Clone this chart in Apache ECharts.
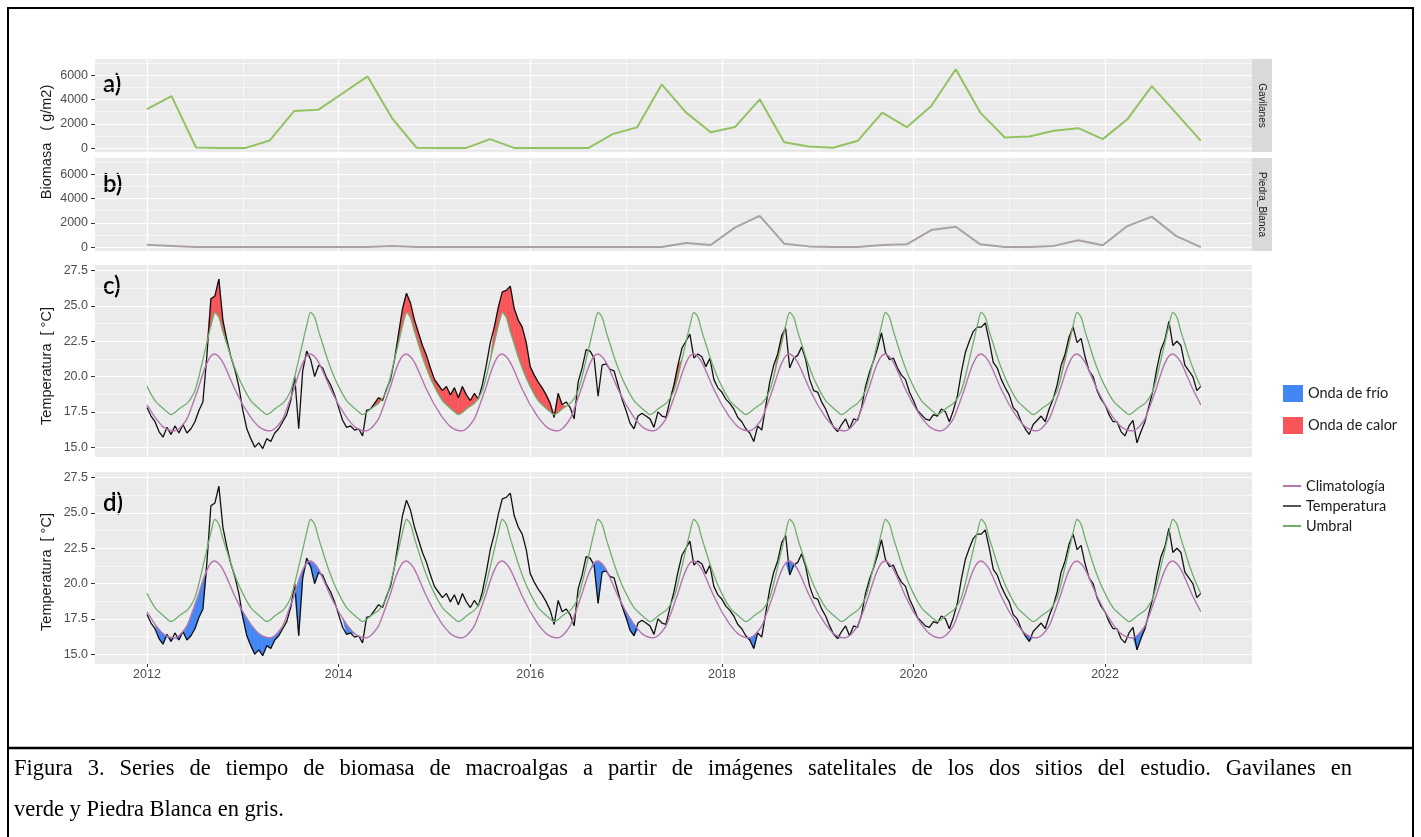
<!DOCTYPE html>
<html>
<head>
<meta charset="utf-8">
<title>Figura 3</title>
<script src="https://cdn.jsdelivr.net/npm/echarts@6.0.0/dist/echarts.min.js"></script>
<style>
  html, body { margin: 0; padding: 0; background: #fff; }
  #chart { width: 1421px; height: 837px; }
</style>
</head>
<body>
<div id="chart"></div>
<script>
// biomass (g/m2), 44 satellite samples from Jan 2012 to Jan 2023
const bioStart = 2012;
const bioEnd = 2023;
const gavilanes = [3200, 4280, 50, 0, 0, 620, 3050, 3160, 4530, 5900, 2450, 30, 0, 0, 740, 0,
  0, 0, 0, 1150, 1720, 5240, 2920, 1310, 1740, 4010, 490, 130, 30, 600, 2920, 1720,
  3460, 6490, 2920, 870, 950, 1420, 1640, 740, 2370, 5100, 2860, 600];
const piedraBlanca = [200, 100, 0, 0, 0, 0, 0, 0, 0, 0, 100, 0, 0, 0, 0, 0,
  0, 0, 0, 0, 0, 0, 335, 170, 1620, 2570, 280, 60, 0, 0, 170, 226,
  1400, 1675, 226, 0, 0, 100, 560, 150, 1730, 2510, 900, 0];

// sea temperature (°C), two readings per month
const temp2012 = [17.8, 17.2, 16.8, 16.1, 15.7, 16.4, 15.9, 16.5, 16.0, 16.6, 16.0, 16.3, 16.8, 17.6, 18.2, 21.5, 25.5, 25.7, 26.9, 24.0, 22.6, 21.4, 20.5, 19.3];
const temp2013 = [17.6, 16.3, 15.6, 15.0, 15.3, 14.9, 15.6, 15.4, 16.0, 16.3, 16.8, 17.3, 18.3, 20.0, 16.3, 20.4, 21.8, 21.2, 20.0, 20.8, 20.6, 19.9, 19.4, 18.7];
const temp2014 = [17.8, 16.9, 16.4, 16.5, 16.2, 16.3, 15.8, 17.6, 17.7, 18.1, 18.5, 18.3, 19.1, 19.8, 21.2, 23.0, 24.8, 25.9, 25.2, 24.0, 23.1, 22.2, 21.5, 20.6];
const temp2015 = [19.8, 19.4, 19.0, 19.3, 18.7, 19.2, 18.5, 19.3, 18.7, 18.3, 18.8, 18.4, 19.4, 20.8, 22.4, 23.5, 24.9, 26.0, 26.1, 26.4, 24.8, 24.0, 23.5, 22.4];
const temp2016 = [20.7, 20.1, 19.6, 19.2, 18.7, 18.1, 17.1, 18.8, 18.0, 18.2, 17.8, 17.0, 19.6, 20.6, 21.9, 21.8, 21.3, 18.6, 20.8, 20.9, 20.5, 20.4, 19.4, 18.4];
const temp2017 = [17.6, 16.7, 16.3, 17.2, 17.4, 17.2, 17.0, 16.4, 17.5, 17.2, 17.1, 18.3, 19.4, 20.8, 22.0, 22.5, 23.0, 21.3, 21.6, 21.4, 20.7, 21.3, 19.8, 19.2];
const temp2018 = [18.9, 18.4, 18.1, 17.7, 17.1, 16.8, 16.3, 16.0, 15.4, 16.5, 16.2, 17.9, 19.6, 20.8, 21.6, 22.9, 23.4, 20.6, 21.3, 21.5, 22.1, 21.2, 19.8, 19.0];
const temp2019 = [18.9, 18.2, 17.7, 17.0, 16.4, 16.1, 16.6, 17.0, 16.3, 17.0, 16.9, 17.8, 19.3, 20.3, 21.1, 22.0, 23.1, 21.7, 21.2, 21.3, 20.6, 20.1, 19.8, 18.9];
const temp2020 = [18.3, 17.6, 17.3, 17.0, 16.9, 17.3, 17.2, 17.7, 17.5, 16.8, 17.6, 18.6, 20.3, 21.7, 22.5, 23.2, 23.5, 23.5, 23.8, 22.5, 21.0, 20.6, 19.8, 19.2];
const temp2021 = [18.7, 17.8, 17.5, 16.8, 16.3, 15.9, 16.6, 16.9, 17.2, 16.8, 17.7, 18.4, 19.4, 20.8, 21.6, 22.8, 23.5, 22.4, 22.7, 21.4, 20.4, 20.0, 19.0, 18.4];
const temp2022 = [18.0, 17.3, 16.8, 16.8, 16.1, 15.8, 16.5, 16.9, 15.3, 16.1, 16.8, 17.9, 19.0, 20.6, 21.9, 22.6, 23.9, 22.2, 22.5, 22.2, 20.8, 20.4, 20.0, 19.0];
const tempEnd = 19.3; // 1 Jan 2023

// seasonal cycle, two readings per month (same every year)
const climatologia = [18.0, 17.55, 17.1, 16.75, 16.45, 16.28, 16.18, 16.16, 16.3, 16.6, 17.0, 17.7,
  18.5, 19.3, 20.2, 20.95, 21.45, 21.6, 21.4, 21.0, 20.4, 19.75, 19.1, 18.55];
const umbral = [19.3, 18.75, 18.3, 18.0, 17.75, 17.5, 17.3, 17.45, 17.7, 17.9, 18.1, 18.45,
  19.0, 20.0, 21.2, 22.4, 23.6, 24.55, 24.2, 23.2, 22.3, 21.4, 20.6, 19.9];

// detected events (decimal years)
const ondasCalor = [[2012.6, 2012.83], [2014.3, 2014.47], [2014.58, 2015.46], [2015.6, 2016.34],
  [2017.46, 2017.55], [2018.57, 2018.66], [2021.57, 2021.66]];
const ondasFrio = [[2012.12, 2012.62], [2012.95, 2013.4], [2013.48, 2013.88], [2014.06, 2014.15],
  [2016.58, 2016.85], [2016.88, 2016.98], [2017.0, 2017.1], [2017.78, 2017.9], [2018.26, 2018.35],
  [2018.69, 2018.77], [2019.13, 2019.22], [2019.53, 2019.62], [2021.14, 2021.27], [2022.27, 2022.45]];

const yearTicks = [2012, 2014, 2016, 2018, 2020, 2022];
const yearMinor = [2013, 2015, 2017, 2019, 2021, 2023];
const bioTicks = [0, 2000, 4000, 6000];
const bioMinor = [1000, 3000, 5000, 7000];
const tempTicks = [15, 17.5, 20, 22.5, 25, 27.5];
const tempMinor = [16.25, 18.75, 21.25, 23.75, 26.25];

const caption1 = 'Figura 3. Series de tiempo de biomasa de macroalgas a partir de imágenes satelitales de los dos sitios del estudio. Gavilanes en';
const caption2 = 'verde y Piedra Blanca en gris.';

const X_MIN = 2011.457;
const X_MAX = 2023.534;
const GRID_LEFT = 95;
const GRID_W = 1157;

const COL = {
  gav: '#94c262',
  pb: '#aaa2a2',
  temp: '#111111',
  clim: '#b575ad',
  umb: '#6fae6f',
  calor: '#f8555a',
  frio: '#4287f5',
  panel: '#ebebeb',
  tick: '#4d4d4d'
};

// ---- build series data ----
const tempYears = [temp2012, temp2013, temp2014, temp2015, temp2016, temp2017,
  temp2018, temp2019, temp2020, temp2021, temp2022];
const tX = [], tT = [], tC = [], tU = [];
tempYears.forEach((arr, k) => {
  arr.forEach((v, i) => {
    tX.push(2012 + k + i / 24);
    tT.push(v);
    tC.push(climatologia[i]);
    tU.push(umbral[i]);
  });
});
tX.push(2023); tT.push(tempEnd); tC.push(climatologia[0]); tU.push(umbral[0]);

const inEvent = (x, list) => list.some(([a, b]) => x >= a && x <= b);
const pair = (vals) => tX.map((x, i) => [x, vals[i]]);

// band edges: [lower, upper] at every sample, zero width outside events
const heatLow = tU;
const heatHigh = tX.map((x, i) => inEvent(x, ondasCalor) ? Math.max(tT[i], tU[i]) : tU[i]);
const coldHigh = tC;
const coldLow = tX.map((x, i) => inEvent(x, ondasFrio) ? Math.min(tT[i], tC[i]) : tC[i]);

// one quad per sample step where the band is open
const bandSegments = (low, high) => {
  const out = [];
  for (let i = 0; i < tX.length - 1; i++) {
    if (high[i] - low[i] <= 0 && high[i + 1] - low[i + 1] <= 0) continue;
    out.push([tX[i], tX[i + 1], high[i], high[i + 1], low[i], low[i + 1]]);
  }
  return out;
};

const renderBand = (params, api) => {
  const color = api.visual('color');
  const p0 = api.coord([api.value(0), api.value(2)]);
  const p1 = api.coord([api.value(1), api.value(3)]);
  const p2 = api.coord([api.value(1), api.value(5)]);
  const p3 = api.coord([api.value(0), api.value(4)]);
  return {
    type: 'polygon',
    shape: { points: [p0, p1, p2, p3] },
    style: { fill: color, stroke: color, lineWidth: 0.5 }
  };
};

const bioStep = (bioEnd - bioStart) / (gavilanes.length - 1);
const bioX = gavilanes.map((_, i) => bioStart + i * bioStep);

// ---- axes ----
const xAxes = (grid, labels) => [
  {
    type: 'value', gridIndex: grid, min: X_MIN, max: X_MAX,
    axisLine: { show: false },
    axisTick: { show: labels, customValues: yearTicks, length: 3, lineStyle: { color: '#333', width: 1 } },
    axisLabel: {
      show: labels, customValues: yearTicks, margin: 4,
      formatter: (v) => String(v), color: COL.tick, fontSize: 12.5, fontFamily: 'Liberation Sans'
    },
    splitLine: { show: true, lineStyle: { color: '#ffffff', width: 1.2 } }
  },
  {
    type: 'value', gridIndex: grid, min: X_MIN, max: X_MAX,
    axisLine: { show: false },
    axisTick: { show: false, customValues: yearMinor },
    axisLabel: { show: false, customValues: yearMinor },
    splitLine: { show: true, lineStyle: { color: '#ffffff', width: 0.6 } }
  }
];

const yAxes = (grid, min, max, major, minor, fmt) => [
  {
    type: 'value', gridIndex: grid, min, max,
    axisLine: { show: false },
    axisTick: { show: true, customValues: major, length: 4, lineStyle: { color: '#333', width: 1 } },
    axisLabel: {
      customValues: major, margin: 7, formatter: fmt,
      color: COL.tick, fontSize: 12.5, fontFamily: 'Liberation Sans'
    },
    splitLine: { show: true, lineStyle: { color: '#ffffff', width: 1.2 } }
  },
  {
    type: 'value', gridIndex: grid, min, max,
    axisLine: { show: false },
    axisTick: { show: false, customValues: minor },
    axisLabel: { show: false, customValues: minor },
    splitLine: { show: true, lineStyle: { color: '#ffffff', width: 0.6 } }
  }
];

const fmtInt = (v) => String(v);
const fmtDec = (v) => v.toFixed(1);

const gridBox = (top, height) => ({
  left: GRID_LEFT, top, width: GRID_W, height,
  show: true, backgroundColor: COL.panel, borderWidth: 0
});

const line = (name, grid, data, color, width, extra) => Object.assign({
  name, type: 'line', xAxisIndex: grid * 2, yAxisIndex: grid * 2, data,
  symbol: 'none', silent: true, color,
  lineStyle: { color, width }
}, extra || {});

const band = (name, grid, data, color) => ({
  name, type: 'custom', xAxisIndex: grid * 2, yAxisIndex: grid * 2,
  data, renderItem: renderBand, silent: true, z: 2, clip: true,
  encode: { x: [0, 1], y: [2, 3, 4, 5] },
  itemStyle: { color }
});

const tempSet = (grid) => [
  line('Temperatura', grid, pair(tT), COL.temp, 1.3, { z: 3 }),
  line('Climatología', grid, pair(tC), COL.clim, 1.4, { z: 4, smooth: 0.3 }),
  line('Umbral', grid, pair(tU), COL.umb, 1.3, { z: 4, smooth: 0.3 })
];

const series = [
  line('Gavilanes', 0, bioX.map((x, i) => [x, gavilanes[i]]), COL.gav, 2),
  line('Piedra_Blanca', 1, bioX.map((x, i) => [x, piedraBlanca[i]]), COL.pb, 2),
  band('Onda de calor', 2, bandSegments(heatLow, heatHigh), COL.calor),
  ...tempSet(2),
  band('Onda de frío', 3, bandSegments(coldLow, coldHigh), COL.frio),
  ...tempSet(3)
];

// ---- decoration ----
const txt = (text, x, y, opts) => ({
  type: 'text', x, y, rotation: (opts && opts.rotation) || 0, silent: true,
  style: Object.assign({
    text, fill: '#1a1a1a', fontSize: 14, fontFamily: 'Liberation Sans',
    textAlign: 'left', textVerticalAlign: 'middle'
  }, (opts && opts.style) || {})
});

const panelLabel = (text, y) => txt(text, 103, y, {
  style: { fontSize: 24, fontFamily: 'Lato', fontWeight: 600, fill: '#000' }
});

// caption line 1 is justified across the box, like the document it came from
const CAP_FONT = 22.5;
const CAP_FAMILY = 'Liberation Serif';
const justifyLine = (text, x0, x1, y) => {
  const ctx = document.createElement('canvas').getContext('2d');
  ctx.font = CAP_FONT + 'px "' + CAP_FAMILY + '"';
  const words = text.split(' ');
  const widths = words.map((w) => ctx.measureText(w).width);
  const total = widths.reduce((a, b) => a + b, 0);
  const gap = (x1 - x0 - total) / (words.length - 1);
  let x = x0;
  return words.map((w, i) => {
    const el = txt(w, x, y, { style: { fontSize: CAP_FONT, fontFamily: CAP_FAMILY, fill: '#000' } });
    x += widths[i] + gap;
    return el;
  });
};

const graphic = [
  { type: 'rect', shape: { x: 8, y: 8, width: 1405, height: 860 }, style: { fill: 'none', stroke: '#000', lineWidth: 2 }, silent: true },
  { type: 'line', shape: { x1: 8, y1: 748, x2: 1413, y2: 748 }, style: { stroke: '#000', lineWidth: 2.5 }, silent: true },

  { type: 'rect', shape: { x: 1252, y: 59, width: 20, height: 93 }, style: { fill: '#d9d9d9' }, silent: true },
  { type: 'rect', shape: { x: 1252, y: 158, width: 20, height: 93 }, style: { fill: '#d9d9d9' }, silent: true },
  txt('Gavilanes', 1262, 105.5, { rotation: -Math.PI / 2, style: { fontSize: 10, textAlign: 'center' } }),
  txt('Piedra_Blanca', 1262, 204.5, { rotation: -Math.PI / 2, style: { fontSize: 10, textAlign: 'center' } }),

  panelLabel('a)', 84),
  panelLabel('b)', 184),
  panelLabel('c)', 286),
  panelLabel('d)', 503),

  txt('Biomasa   ( g/m2)', 47, 142, { rotation: Math.PI / 2, style: { fontSize: 14.5, textAlign: 'center' } }),
  txt('Temperatura  [ °C]', 47, 366, { rotation: Math.PI / 2, style: { fontSize: 14.5, textAlign: 'center' } }),
  txt('Temperatura  [ °C]', 47, 572, { rotation: Math.PI / 2, style: { fontSize: 14.5, textAlign: 'center' } }),

  ...justifyLine(caption1, 14, 1352, 769),
  txt(caption2, 14, 810, { style: { fontSize: CAP_FONT, fontFamily: CAP_FAMILY, fill: '#000' } })
];

const chart = echarts.init(document.getElementById('chart'), null, { renderer: 'canvas' });
chart.setOption({
  animation: false,
  backgroundColor: '#ffffff',
  grid: [gridBox(59, 93), gridBox(158, 93), gridBox(265, 192), gridBox(472, 192)],
  xAxis: [...xAxes(0, false), ...xAxes(1, false), ...xAxes(2, false), ...xAxes(3, true)],
  yAxis: [
    ...yAxes(0, -320, 7330, bioTicks, bioMinor, fmtInt),
    ...yAxes(1, -320, 7330, bioTicks, bioMinor, fmtInt),
    ...yAxes(2, 14.3, 27.9, tempTicks, tempMinor, fmtDec),
    ...yAxes(3, 14.3, 27.9, tempTicks, tempMinor, fmtDec)
  ],
  legend: [
    {
      data: ['Onda de frío', 'Onda de calor'],
      orient: 'vertical', left: 1278, top: 380,
      icon: 'rect', itemWidth: 20, itemHeight: 17, itemGap: 15,
      selectedMode: false,
      textStyle: { fontFamily: 'Lato', fontSize: 14.5, color: '#1a1a1a' }
    },
    {
      data: [
        { name: 'Climatología' },
        { name: 'Temperatura', itemStyle: { color: '#555555' } },
        { name: 'Umbral' }
      ],
      orient: 'vertical', left: 1278, top: 473,
      icon: 'rect', itemWidth: 18, itemHeight: 2, itemGap: 4,
      selectedMode: false,
      textStyle: { fontFamily: 'Lato', fontSize: 14.5, color: '#1a1a1a', lineHeight: 16 }
    }
  ],
  series,
  graphic
});
</script>
</body>
</html>
